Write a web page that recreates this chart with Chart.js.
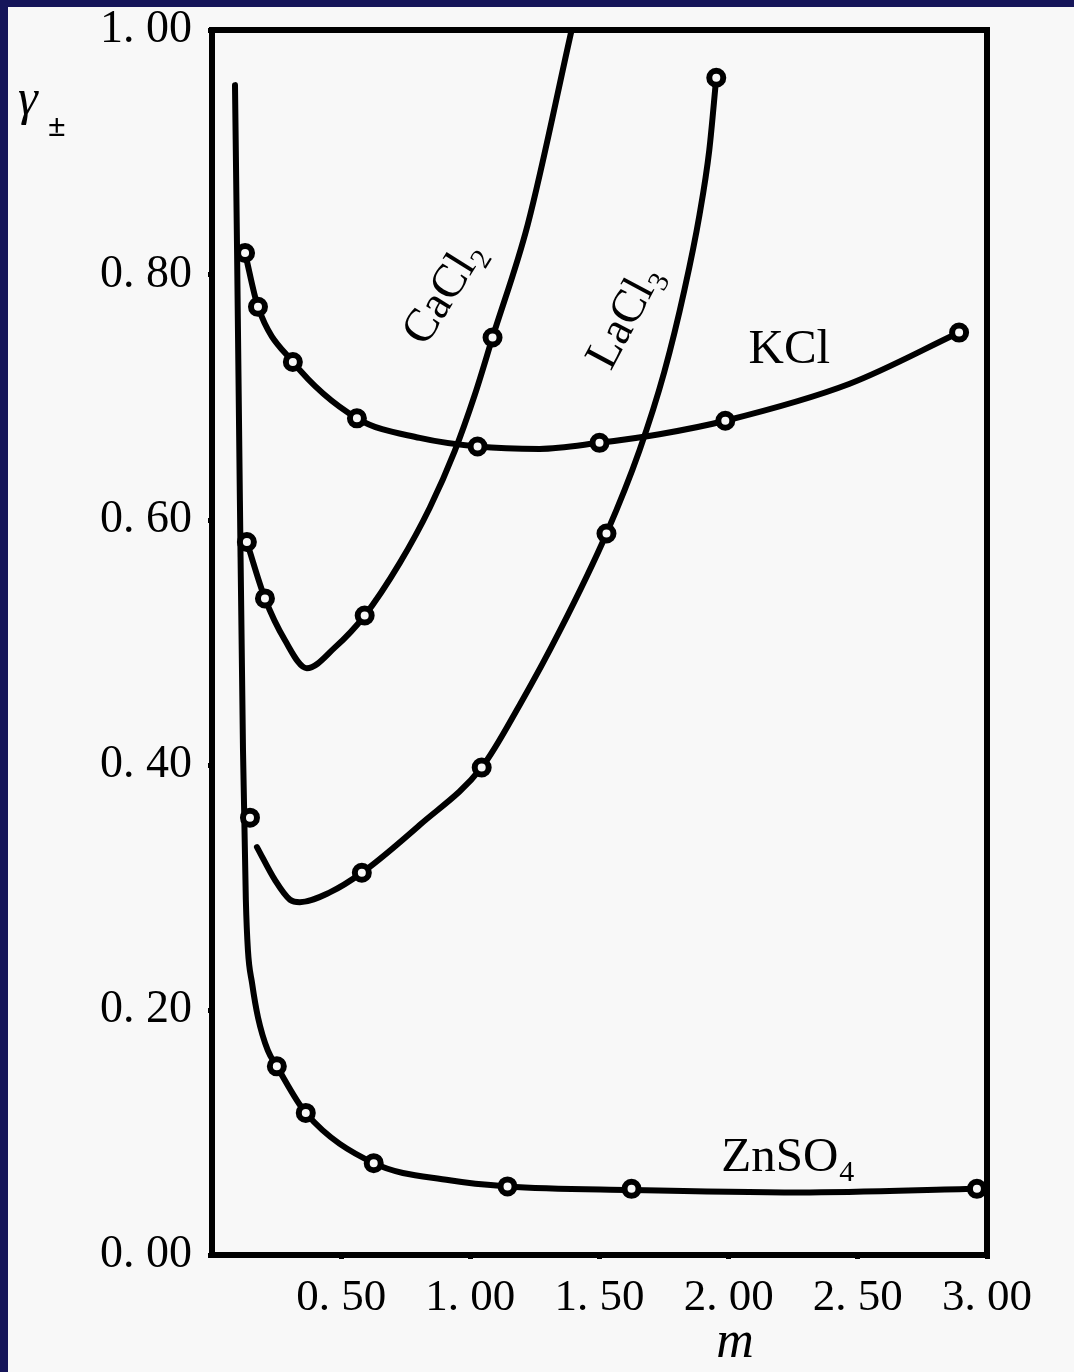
<!DOCTYPE html>
<html>
<head>
<meta charset="utf-8">
<script src="https://cdn.jsdelivr.net/npm/chart.js@4.4.1/dist/chart.umd.min.js"></script>
<style>
  html, body { margin: 0; padding: 0; background: #16165a; overflow: hidden; }
  canvas { display: block; }
</style>
</head>
<body>
<canvas id="gamma" width="1074" height="1372"></canvas>
<script>
// m (mol/kg) and mean activity coefficient
var znX = [0.089, 0.097, 0.108, 0.120, 0.131, 0.139, 0.155, 0.178, 0.216, 0.251, 0.363, 0.626, 0.920, 1.144, 1.624, 2.273, 2.961];
var znY = [0.955, 0.820, 0.616, 0.412, 0.290, 0.249, 0.222, 0.194, 0.167, 0.154, 0.116, 0.075, 0.061, 0.056, 0.053, 0.051, 0.054];
var znMarkX = [0.251, 0.363, 0.626, 1.144, 1.624, 2.961];
var znMarkY = [0.154, 0.116, 0.075, 0.056, 0.054, 0.054];

var kclX = [0.128, 0.178, 0.313, 0.561, 0.804, 1.028, 1.268, 1.500, 1.732, 1.987, 2.466, 2.892];
var kclY = [0.818, 0.774, 0.729, 0.683, 0.667, 0.660, 0.658, 0.663, 0.670, 0.681, 0.711, 0.753];
var kclMarkX = [0.128, 0.178, 0.313, 0.561, 1.028, 1.500, 1.987, 2.892];
var kclMarkY = [0.818, 0.774, 0.729, 0.683, 0.660, 0.663, 0.681, 0.753];

var caX = [0.135, 0.205, 0.282, 0.367, 0.476, 0.591, 0.727, 0.843, 0.939, 1.017, 1.086, 1.222, 1.392];
var caY = [0.582, 0.536, 0.502, 0.479, 0.496, 0.522, 0.565, 0.610, 0.656, 0.702, 0.749, 0.841, 1.000];
var caMarkX = [0.135, 0.205, 0.591, 1.086];
var caMarkY = [0.582, 0.536, 0.522, 0.749];

var laX = [0.174, 0.244, 0.302, 0.340, 0.456, 0.580, 0.804, 1.044, 1.191, 1.345, 1.527, 1.655, 1.751, 1.829, 1.887, 1.925, 1.952];
var laY = [0.333, 0.306, 0.290, 0.288, 0.296, 0.312, 0.351, 0.398, 0.449, 0.509, 0.589, 0.657, 0.721, 0.788, 0.849, 0.902, 0.961];
var laMarkX = [0.147, 0.580, 1.044, 1.527, 1.952];
var laMarkY = [0.357, 0.312, 0.398, 0.589, 0.961];

var xTicks = [0.5, 1.0, 1.5, 2.0, 2.5, 3.0];
var yTicks = [0, 0.2, 0.4, 0.6, 0.8, 1.0];

var PAPER = '#f8f8f8';
var INK = '#000000';
var SERIF = '"Liberation Serif", "DejaVu Serif", serif';

function toPoints(xs, ys) {
  var pts = [];
  for (var i = 0; i < xs.length; i++) {
    pts.push({ x: xs[i], y: ys[i] });
  }
  return pts;
}

function curve(label, xs, ys) {
  return {
    label: label,
    data: toPoints(xs, ys),
    borderColor: INK,
    borderWidth: 6,
    borderCapStyle: 'round',
    borderJoinStyle: 'round',
    cubicInterpolationMode: 'monotone',
    pointRadius: 0,
    fill: false,
    order: 1
  };
}

function markers(label, xs, ys) {
  return {
    label: label,
    data: toPoints(xs, ys),
    showLine: false,
    pointRadius: 7,
    pointBorderWidth: 6,
    pointBorderColor: INK,
    pointBackgroundColor: PAPER,
    order: 0
  };
}

function tickText(v) {
  return v.toFixed(2).replace('.', '. ');
}

// paper on the dark slide background
var paperPlugin = {
  id: 'paper',
  beforeDraw: function (chart) {
    var c = chart.ctx;
    c.save();
    c.fillStyle = '#16165a';
    c.fillRect(0, 0, chart.width, chart.height);
    c.fillStyle = PAPER;
    c.fillRect(8, 7, chart.width - 8, chart.height - 7);
    c.restore();
  }
};

function chem(c, main, sub, x, y, angle, size) {
  c.save();
  c.translate(x, y);
  c.rotate(angle);
  c.fillStyle = INK;
  c.textBaseline = 'alphabetic';
  c.textAlign = 'left';
  c.font = size + 'px ' + SERIF;
  var w1 = c.measureText(main).width;
  c.font = Math.round(size * 0.62) + 'px ' + SERIF;
  var w2 = c.measureText(sub).width;
  var x0 = -(w1 + w2) / 2;
  c.font = size + 'px ' + SERIF;
  c.fillText(main, x0, size * 0.33);
  c.font = Math.round(size * 0.62) + 'px ' + SERIF;
  c.fillText(sub, x0 + w1 + 1, size * 0.33 + size * 0.2);
  c.restore();
}

var labelPlugin = {
  id: 'labels',
  afterDatasetsDraw: function (chart) {
    var c = chart.ctx;
    var xs = chart.scales.x;
    var ys = chart.scales.y;
    chem(c, 'CaCl', '2', xs.getPixelForValue(0.889), ys.getPixelForValue(0.786), -58 * Math.PI / 180, 47);
    chem(c, 'LaCl', '3', xs.getPixelForValue(1.589), ys.getPixelForValue(0.766), -62 * Math.PI / 180, 47);
    chem(c, 'KCl', '', xs.getPixelForValue(2.235), ys.getPixelForValue(0.741), 0, 49);
    chem(c, 'ZnSO', '4', xs.getPixelForValue(2.227), ys.getPixelForValue(0.082), 0, 49);

    // axis titles
    c.save();
    c.fillStyle = INK;
    c.textAlign = 'left';
    c.textBaseline = 'alphabetic';
    c.font = 'italic 50px ' + SERIF;
    c.fillText('\u03b3', 18, 114);
    c.font = 'bold 32px ' + SERIF;
    c.fillText('\u00b1', 48, 136);
    c.font = 'italic 52px ' + SERIF;
    c.textAlign = 'center';
    c.fillText('m', 735, 1357);
    c.restore();
  }
};

function noLabelPadding(s) {
  s.paddingTop = 0;
  s.paddingBottom = 0;
}

var ctx = document.getElementById('gamma').getContext('2d');

var myChartGamma = new Chart(ctx, {
  type: 'line',
  data: {
    datasets: [
      markers('ZnSO4 pts', znMarkX, znMarkY),
      markers('KCl pts', kclMarkX, kclMarkY),
      markers('CaCl2 pts', caMarkX, caMarkY),
      markers('LaCl3 pts', laMarkX, laMarkY),
      curve('ZnSO4', znX, znY),
      curve('KCl', kclX, kclY),
      curve('CaCl2', caX, caY),
      curve('LaCl3', laX, laY)
    ]
  },
  options: {
    responsive: false,
    devicePixelRatio: 1,
    animation: false,
    layout: {
      padding: { top: 30, right: 87, left: 0, bottom: 0 }
    },
    plugins: {
      legend: { display: false },
      tooltip: { enabled: false }
    },
    scales: {
      x: {
        type: 'linear',
        position: 'bottom',
        min: 0,
        max: 3,
        afterFit: function (s) { s.height = 117; },
        afterBuildTicks: function (s) {
          s.ticks = xTicks.map(function (v) { return { value: v }; });
        },
        ticks: {
          callback: function (v) { return tickText(v); },
          color: INK,
          font: { family: SERIF, size: 45 },
          padding: 12,
          maxRotation: 0,
          autoSkip: false
        },
        grid: { drawOnChartArea: false, drawTicks: true, tickLength: 4, lineWidth: 5, color: INK },
        border: { color: INK, width: 6 }
      },
      y: {
        type: 'linear',
        position: 'left',
        min: 0,
        max: 1,
        afterFit: function (s) { s.width = 212; noLabelPadding(s); },
        afterBuildTicks: function (s) {
          s.ticks = yTicks.map(function (v) { return { value: v }; });
        },
        ticks: {
          callback: function (v) { return tickText(v); },
          color: INK,
          font: { family: SERIF, size: 46 },
          padding: 16
        },
        grid: { drawOnChartArea: false, drawTicks: true, tickLength: 4, lineWidth: 5, color: INK },
        border: { color: INK, width: 6 }
      },
      xTop: {
        type: 'linear',
        position: 'top',
        min: 0,
        max: 3,
        afterFit: function (s) { s.height = 0; },
        ticks: { display: false },
        grid: { display: false },
        border: { color: INK, width: 6 }
      },
      yRight: {
        type: 'linear',
        position: 'right',
        min: 0,
        max: 1,
        afterFit: function (s) { s.width = 0; noLabelPadding(s); },
        ticks: { display: false },
        grid: { display: false },
        border: { color: INK, width: 6 }
      }
    }
  },
  plugins: [paperPlugin, labelPlugin]
});
</script>
</body>
</html>
